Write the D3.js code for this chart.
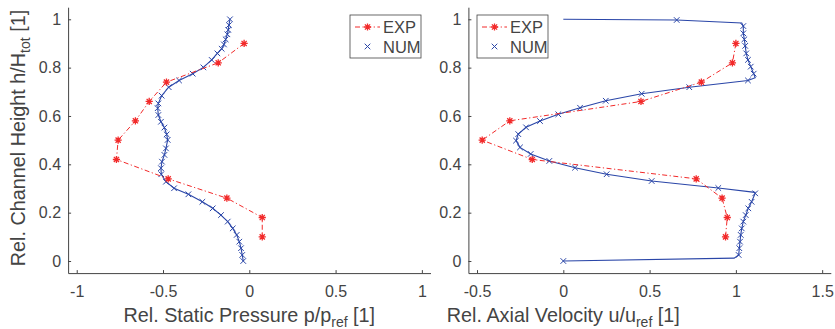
<!DOCTYPE html>
<html><head><meta charset="utf-8">
<script src="https://cdn.jsdelivr.net/npm/d3@7"></script>
<style>
body{margin:0;background:#fff;}
text{font-family:"Liberation Sans",Arial,sans-serif;fill:#444;}
</style></head>
<body><svg id="c" width="835" height="329"></svg>
<script>
// ---- data ----
const expH = [0.9, 0.82, 0.74, 0.66, 0.58, 0.5, 0.42, 0.34, 0.26, 0.18, 0.1];
const expP = [-0.03, -0.18, -0.48, -0.58, -0.66, -0.76, -0.77, -0.47, -0.13, 0.075, 0.075];
const expU = [1.0, 0.98, 0.80, 0.45, -0.31, -0.47, -0.18, 0.77, 0.92, 0.95, 0.94];

const numPH = [1.0,0.976,0.956,0.938,0.917,0.896,0.878,0.859,0.832,0.801,0.775,0.747,0.719,0.684,0.652,0.632,0.604,0.576,0.552,0.524,0.501,0.466,0.439,0.411,0.384,0.359,0.328,0.301,0.276,0.245,0.218,0.19,0.163,0.135,0.108,0.08,0.053,0.025,0.0];
const numP  = [-0.112,-0.118,-0.122,-0.127,-0.137,-0.147,-0.16,-0.185,-0.218,-0.266,-0.328,-0.407,-0.467,-0.508,-0.527,-0.531,-0.527,-0.512,-0.492,-0.479,-0.473,-0.483,-0.492,-0.506,-0.512,-0.51,-0.483,-0.436,-0.353,-0.272,-0.212,-0.164,-0.125,-0.096,-0.073,-0.058,-0.048,-0.041,-0.035];

const numUH = [0.997,0.972,0.942,0.917,0.89,0.859,0.832,0.804,0.775,0.747,0.719,0.692,0.663,0.634,0.607,0.579,0.553,0.525,0.498,0.47,0.443,0.414,0.386,0.359,0.331,0.302,0.28,0.245,0.218,0.19,0.163,0.135,0.108,0.08,0.053,0.025,0.0];
const numU  = [0.657,1.043,1.043,1.049,1.054,1.06,1.07,1.086,1.103,1.07,0.73,0.454,0.246,0.097,-0.029,-0.135,-0.216,-0.261,-0.274,-0.251,-0.189,-0.081,0.068,0.251,0.512,0.898,1.112,1.091,1.072,1.057,1.043,1.034,1.028,1.024,1.02,1.016,0.0];
// wall/line-only support points of the numerical profile
const numLineH = [1.0, 0.997, 0.985, 0.972,0.942,0.917,0.89,0.859,0.832,0.804,0.775,0.758,0.747,0.719,0.692,0.663,0.634,0.607,0.579,0.553,0.525,0.498,0.47,0.443,0.414,0.386,0.359,0.331,0.302,0.284,0.28,0.245,0.218,0.19,0.163,0.135,0.108,0.08,0.053,0.025,0.012,0.0];
const numLineU = [0.0, 0.657, 1.034, 1.043,1.043,1.049,1.054,1.06,1.07,1.086,1.103,1.112,1.07,0.73,0.454,0.246,0.097,-0.029,-0.135,-0.216,-0.261,-0.274,-0.251,-0.189,-0.081,0.068,0.251,0.512,0.898,1.11,1.112,1.091,1.072,1.057,1.043,1.034,1.028,1.024,1.02,1.016,0.99,0.0];

const yTicks = [0,0.2,0.4,0.6,0.8,1];
const xTicksL = [-1,-0.5,0,0.5,1];
const xTicksR = [-0.5,0,0.5,1,1.5];

const RED = "#f22a2a", BLUE = "#2a46a8", AX = "#444";
const svg = d3.select("#c");

const y = d3.scaleLinear().domain([-0.05,1.05]).range([273.1,7.2]);
const xL = d3.scaleLinear().domain([-1.05,1.05]).range([68.1,430.5]);
const xR = d3.scaleLinear().domain([-0.55,1.55]).range([468.4,830.8]);

function star(g, cx, cy, r){
  const d = `M${cx-r},${cy}L${cx+r},${cy}M${cx},${cy-r}L${cx},${cy+r}` +
    `M${cx-r*0.72},${cy-r*0.72}L${cx+r*0.72},${cy+r*0.72}M${cx-r*0.72},${cy+r*0.72}L${cx+r*0.72},${cy-r*0.72}`;
  g.append("path").attr("d",d).attr("stroke",RED).attr("stroke-width",1.3).attr("fill","none");
}
function cross(g, cx, cy, r){
  g.append("path").attr("d",`M${cx-r},${cy-r}L${cx+r},${cy+r}M${cx-r},${cy+r}L${cx+r},${cy-r}`)
   .attr("stroke",BLUE).attr("stroke-width",1).attr("fill","none");
}

function panel(x, xt, fmtX, xlabelMain, xsub, legendX, expX, numX, numH, lineX, lineH){
  const g = svg.append("g");
  const ax = d3.axisBottom(x).tickValues(xt).tickSizeInner(-3).tickSizeOuter(0).tickPadding(10).tickFormat(fmtX);
  const gx = g.append("g").attr("transform",`translate(0,${y.range()[0]})`).call(ax);
  const ay = d3.axisLeft(y).tickValues(yTicks).tickSizeInner(-3).tickSizeOuter(0).tickPadding(7).tickFormat(d=>String(d));
  const gy = g.append("g").attr("transform",`translate(${x.range()[0]},0)`).call(ay);
  [gx,gy].forEach(a=>{
    a.selectAll("path,line").attr("stroke",AX).attr("stroke-width",1);
    a.selectAll("text").style("font-size","16px").attr("fill",AX);
  });
  gx.selectAll("text").attr("dy","0.9em");
  const ln = d3.line().x(d=>x(d[0])).y(d=>y(d[1])).curve(d3.curveLinear);
  g.append("path").datum(lineX.map((v,i)=>[v,lineH[i]])).attr("d",ln)
    .attr("fill","none").attr("stroke",BLUE).attr("stroke-width",1.1);
  numX.forEach((v,i)=>cross(g, x(v), y(numH[i]), 2.8));
  g.append("path").datum(expX.map((v,i)=>[v,expH[i]])).attr("d",ln)
    .attr("fill","none").attr("stroke",RED).attr("stroke-width",1).attr("stroke-dasharray","5,2.5,1.2,2.5");
  expX.forEach((v,i)=>star(g, x(v), y(expH[i]), 3.6));
  const t = g.append("text").attr("x", x(0)).attr("y", 322).attr("text-anchor","middle").style("font-size","19.8px");
  t.append("tspan").text(xlabelMain);
  t.append("tspan").attr("dy",5).style("font-size","14px").text(xsub);
  t.append("tspan").attr("dy",-5).text(" [1]");
  const lg = g.append("g").attr("transform",`translate(${legendX},15)`);
  lg.append("rect").attr("width",71).attr("height",43).attr("fill","#fff").attr("stroke",AX).attr("stroke-width",0.8);
  lg.append("line").attr("x1",5).attr("x2",30).attr("y1",12).attr("y2",12).attr("stroke",RED).attr("stroke-dasharray","5,2.5,1.2,2.5");
  star(lg, 17.5, 12, 3.6);
  cross(lg, 17.5, 31.5, 2.8);
  lg.append("text").attr("x",33).attr("y",18).style("font-size","16.5px").text("EXP");
  lg.append("text").attr("x",33).attr("y",38).style("font-size","16.5px").text("NUM");
}

panel(xL, xTicksL, d=>String(d), "Rel. Static Pressure p/p", "ref", 350, expP, numP, numPH, numP, numPH);
panel(xR, xTicksR, d=>String(d), "Rel. Axial Velocity u/u", "ref", 477, expU, numU, numUH, numLineU, numLineH);

const yl = svg.append("text").attr("transform","translate(24.5,138) rotate(-90)").attr("text-anchor","middle").style("font-size","19.8px");
yl.append("tspan").text("Rel. Channel Height h/H");
yl.append("tspan").attr("dy",5).style("font-size","14px").text("tot");
yl.append("tspan").attr("dy",-5).text(" [1]");
</script></body></html>
